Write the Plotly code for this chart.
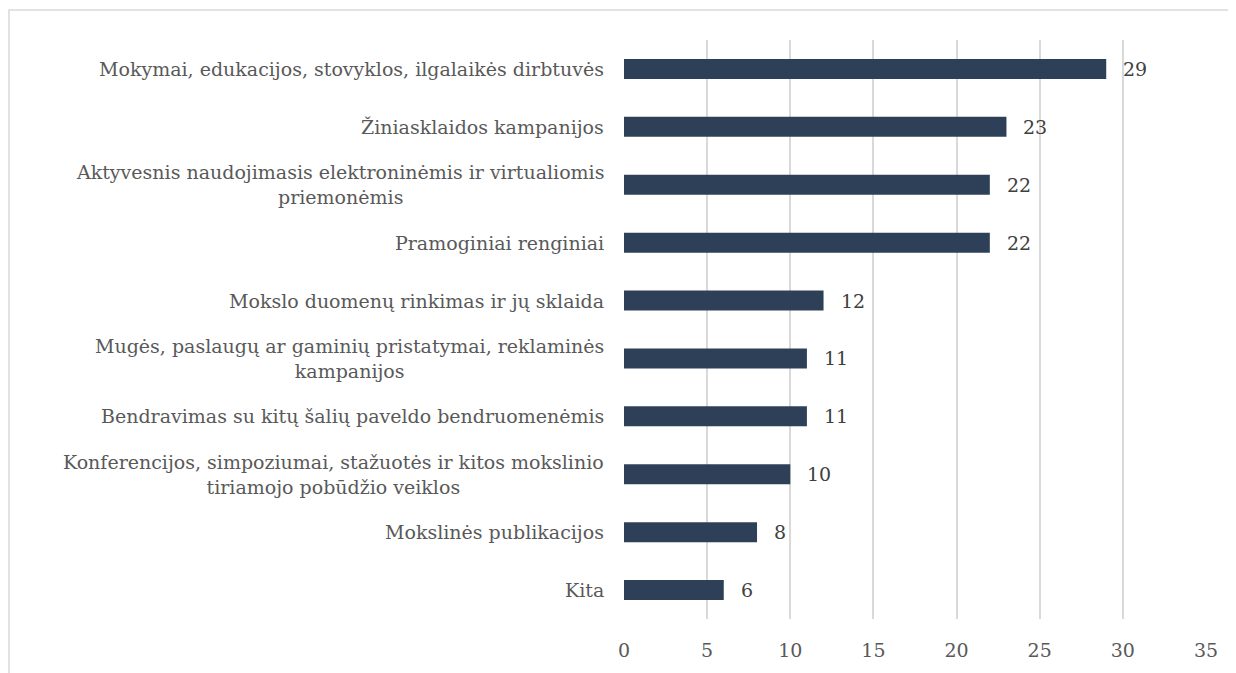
import plotly.graph_objects as go

categories = [
    "Mokymai, edukacijos, stovyklos, ilgalaikės dirbtuvės",
    "Žiniasklaidos kampanijos",
    "Aktyvesnis naudojimasis elektroninėmis ir virtualiomis<br>priemonėmis",
    "Pramoginiai renginiai",
    "Mokslo duomenų rinkimas ir jų sklaida",
    "Mugės, paslaugų ar gaminių pristatymai, reklaminės<br>kampanijos",
    "Bendravimas su kitų šalių paveldo bendruomenėmis",
    "Konferencijos, simpoziumai, stažuotės ir kitos mokslinio<br>tiriamojo pobūdžio veiklos",
    "Mokslinės publikacijos",
    "Kita",
]
values = [29, 23, 22, 22, 12, 11, 11, 10, 8, 6]
x_ticks = [0, 5, 10, 15, 20, 25, 30, 35]

FONT = "DejaVu Serif"
BAR = "#2E4057"
GRID = "#D9D9D9"

fig = go.Figure()
fig.add_trace(go.Bar(
    x=values,
    y=categories,
    orientation="h",
    marker=dict(color=BAR, line=dict(width=0)),
    hoverinfo="x+y",
))

annotations = []
# category labels (centered multi-line like the original)
for c in categories:
    annotations.append(dict(
        x=0, y=c, xref="paper", yref="y",
        text=c, showarrow=False,
        xanchor="right", yanchor="middle", align="center",
        xshift=-18,
        font=dict(family=FONT, size=19, color="#595959"),
    ))
# value labels
for c, v in zip(categories, values):
    annotations.append(dict(
        x=v, y=c, xref="x", yref="y",
        text=str(v), showarrow=False,
        xanchor="left", yanchor="middle",
        xshift=15,
        font=dict(family=FONT, size=19, color="#404040"),
    ))

fig.update_layout(
    width=1236,
    height=673,
    margin=dict(l=616, r=38, t=32, b=62),
    paper_bgcolor="white",
    plot_bgcolor="white",
    showlegend=False,
    bargap=0.655,
    font=dict(family=FONT, size=19, color="#595959"),
    annotations=annotations,
    xaxis=dict(
        range=[0, 35],
        tickvals=x_ticks,
        showgrid=True,
        gridcolor=GRID,
        gridwidth=1.5,
        zeroline=False,
        showline=False,
        ticks="",
        ticklabelstandoff=18,
        tickfont=dict(family=FONT, size=19, color="#595959"),
    ),
    yaxis=dict(
        autorange="reversed",
        showticklabels=False,
        showgrid=False,
        zeroline=False,
        showline=False,
        ticks="",
    ),
    shapes=[dict(
        type="rect", xref="paper", yref="paper",
        x0=-1.0567, x1=1.075, y0=-0.12, y1=1.0518,
        line=dict(color=GRID, width=1.5),
        fillcolor="rgba(0,0,0,0)",
        layer="below",
    )],
)

fig.write_html("out.html")
